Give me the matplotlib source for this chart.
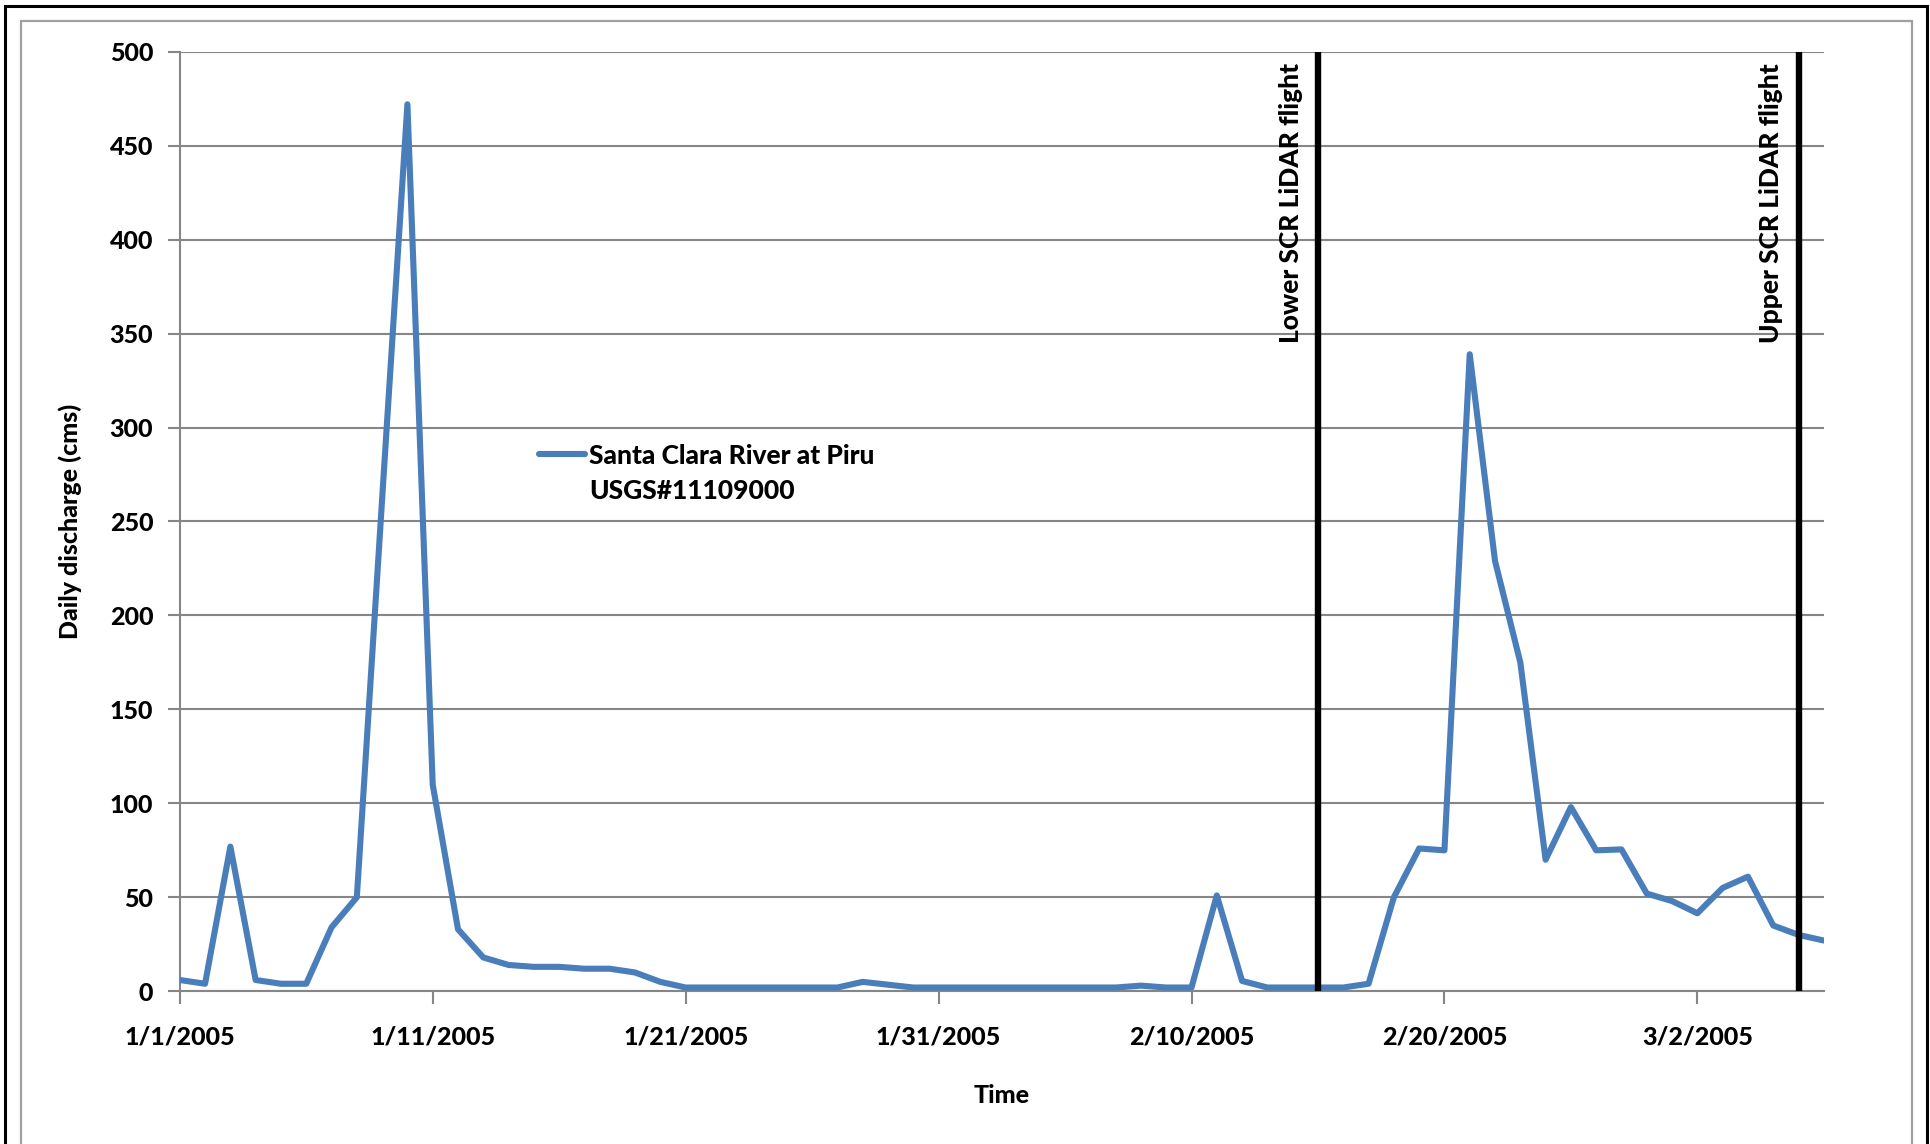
import datetime as dt
import matplotlib
matplotlib.use("Agg")
from matplotlib import pyplot as plt
from matplotlib.patches import Rectangle
from matplotlib.lines import Line2D

plt.rcParams['font.family'] = ['Lato', 'DejaVu Sans']
WT = 900

# daily discharge, 1/1/2005 .. 3/7/2005
start = dt.date(2005, 1, 1)
discharge = [6, 4, 77, 6, 4, 4, 34, 50, 262, 472,
             110, 33, 18, 14, 13, 13, 12, 12, 10, 5,
             2, 2, 2, 2, 2, 2, 2, 5, 3.5, 2,
             2, 2, 2, 2, 2, 2, 2, 2, 3, 2,
             2, 51, 5.5, 2, 2, 2, 2, 4, 50, 76,
             75, 339, 229, 175, 70, 98, 75, 75.5, 52, 48,
             41.5, 55, 61, 35, 30, 27]
dates = [start + dt.timedelta(days=i) for i in range(len(discharge))]

tick_dates = [dt.date(2005, 1, 1), dt.date(2005, 1, 11), dt.date(2005, 1, 21),
              dt.date(2005, 1, 31), dt.date(2005, 2, 10), dt.date(2005, 2, 20),
              dt.date(2005, 3, 2)]
tick_labels = ['1/1/2005', '1/11/2005', '1/21/2005', '1/31/2005',
               '2/10/2005', '2/20/2005', '3/2/2005']

flight_dates = [dt.date(2005, 2, 15), dt.date(2005, 3, 6)]
flight_labels = ['Lower SCR LiDAR flight', 'Upper SCR LiDAR flight']

series_label = ['Santa Clara River at Piru', 'USGS#11109000']

fig = plt.figure(figsize=(19.31, 11.44), dpi=100)
ax = fig.add_axes([0.0931, 0.1335, 0.8514, 0.8213])

grid_c = '#868686'
line, = ax.plot(dates, discharge, color='#4A7EBB', lw=4.4, solid_joinstyle='round',
                solid_capstyle='round', zorder=3)

for d, lab in zip(flight_dates, flight_labels):
    ax.axvline(d, color='black', lw=4.6, zorder=4)
    ax.annotate(lab, xy=(d, 494), xytext=(-11, 0), textcoords='offset points',
                rotation=90, ha='right', va='top', fontsize=19, fontweight=WT)

ax.set_xlim(dt.date(2005, 1, 1), dt.date(2005, 3, 7))
ax.set_ylim(0, 500)
ax.set_yticks(range(0, 501, 50))
ax.set_xticks(tick_dates)
ax.set_xticklabels(tick_labels)
ax.yaxis.grid(True, color=grid_c, lw=1.5)
ax.set_axisbelow(True)

for s in ['top', 'right']:
    ax.spines[s].set_visible(False)
for s in ['left', 'bottom']:
    ax.spines[s].set_color(grid_c)
    ax.spines[s].set_linewidth(1.5)
ax.tick_params(axis='both', colors=grid_c, width=1.5, length=9, labelsize=18,
               labelcolor='black')
ax.tick_params(axis='x', pad=16)
ax.tick_params(axis='y', pad=10)
for t in ax.get_xticklabels() + ax.get_yticklabels():
    t.set_fontweight(WT)

ax.set_xlabel('Time', fontsize=18, fontweight=WT, labelpad=25)
ax.set_ylabel('Daily discharge (cms)', fontsize=18, fontweight=WT, labelpad=20)

blank = Line2D([], [], color='none')
leg = ax.legend([line, blank], series_label, loc='upper left',
                bbox_to_anchor=(0.212, 0.594), frameon=False,
                fontsize=19, handlelength=1.75, handletextpad=0.15,
                labelspacing=0.42, borderaxespad=0)
for t in leg.get_texts():
    t.set_fontweight(WT)

# chart frame (gray) and outer border (black)
W, H = 1931, 1144
fig.patches.append(Rectangle((21 / W, -0.1), (1912 - 21) / W, (H - 21) / H + 0.1,
                             transform=fig.transFigure, fill=False,
                             edgecolor='#A0A0A0', lw=1.6))
fig.patches.append(Rectangle((5 / W, -0.1), (1927 - 5) / W, (H - 6) / H + 0.1,
                             transform=fig.transFigure, fill=False,
                             edgecolor='black', lw=2.2))

fig.savefig('out.png', dpi=100)
